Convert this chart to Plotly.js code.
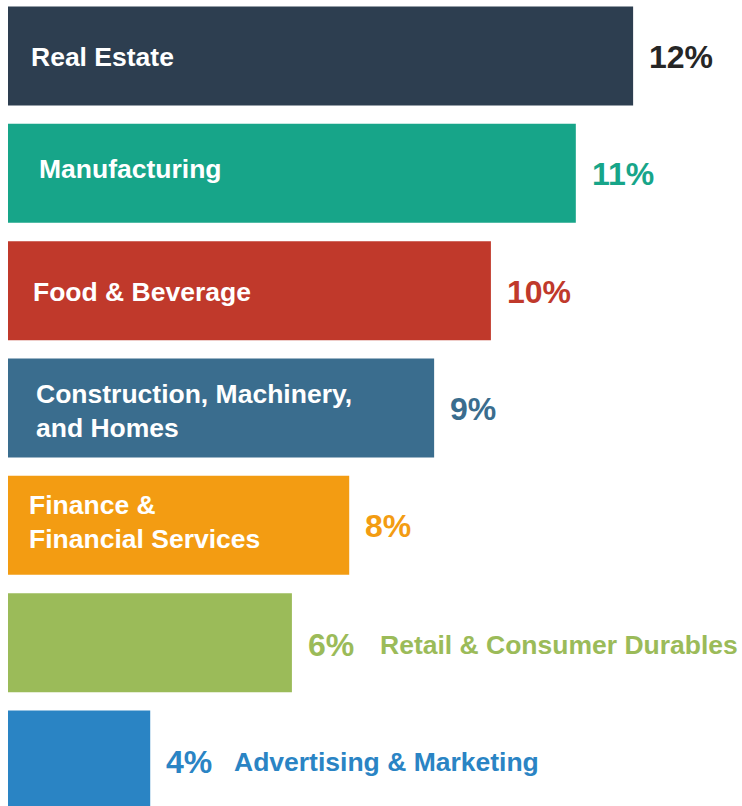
<!DOCTYPE html>
<html>
<head>
<meta charset="utf-8">
<script src="https://cdn.plot.ly/plotly-3.0.1.min.js"></script>
<style>html,body{margin:0;padding:0;background:#fff;}#chart{width:742px;height:806px;}</style>
</head>
<body>
<div id="chart"></div>
<script>
// ---- data ----
const categories = ["Real Estate", "Manufacturing", "Food & Beverage", "Construction, Machinery,<br>and Homes", "Finance &<br>Financial Services", "Retail & Consumer Durables", "Advertising & Marketing"];
const shareLabels = [12, 11, 10, 9, 8, 6, 4];           // printed percentages
const barLength = [12.0, 10.9, 9.27, 8.18, 6.55, 5.45, 2.73]; // drawn bar lengths
const colors = ["#2d3e50", "#17a589", "#c0392b", "#3a6d8e", "#f39c12", "#9bbb59", "#2a84c4"];

// ---- styling (not data) ----
const pctColors = ["#262626", "#17a589", "#c0392b", "#3a6d8e", "#f39c12", "#9bbb59", "#2a84c4"];
const labelInside = [true, true, true, true, true, false, false];
const insideShift = [21, 29, 23, 26, 19];
const insideYShift = [-1, 4, -1, -3, 3];
const pctYShift = [-1, -1, -1, -1, -1, -2, -2];
const outsideShift = [0,0,0,0,0, 86, 82];

const font = "Liberation Sans, Arial, sans-serif";
const annotations = [];
categories.forEach((c, i) => {
  annotations.push({
    x: barLength[i], y: i, xref: "x", yref: "y",
    text: shareLabels[i] + "%", showarrow: false,
    xanchor: "left", yanchor: "middle", xshift: 14, yshift: pctYShift[i],
    font: {family: font, size: 32, color: pctColors[i], weight: "bold"}
  });
  if (labelInside[i]) {
    annotations.push({
      x: 0, y: i, xref: "x", yref: "y",
      text: c, showarrow: false, align: "left",
      xanchor: "left", yanchor: "middle", xshift: insideShift[i], yshift: insideYShift[i],
      font: {family: font, size: 26.5, color: "#ffffff", weight: "bold"}
    });
  } else {
    annotations.push({
      x: barLength[i], y: i, xref: "x", yref: "y",
      text: c, showarrow: false, align: "left",
      xanchor: "left", yanchor: "middle", xshift: outsideShift[i], yshift: -2,
      font: {family: font, size: 26.5, color: colors[i], weight: "bold"}
    });
  }
});

const trace = {
  type: "bar", orientation: "h",
  x: barLength, y: categories.map((c, i) => i),
  marker: {color: colors, line: {width: 0}},
  width: 0.844,
  hoverinfo: "none"
};

const layout = {
  width: 742, height: 806,
  margin: {l: 8, r: 0, t: 0, b: 0, pad: 0},
  paper_bgcolor: "#ffffff", plot_bgcolor: "#ffffff",
  showlegend: false,
  xaxis: {range: [0, 14.09], visible: false, fixedrange: true},
  yaxis: {range: [6.392, -0.477], visible: false, fixedrange: true},
  annotations: annotations,
  font: {family: font}
};

Plotly.newPlot("chart", [trace], layout, {displayModeBar: false, staticPlot: true});
</script>
</body>
</html>
